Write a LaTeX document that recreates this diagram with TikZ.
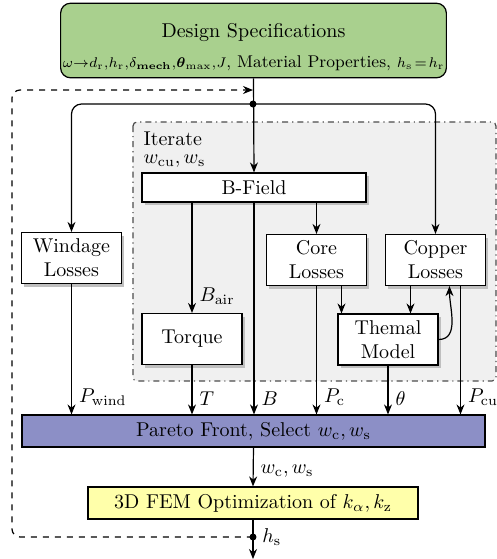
\documentclass[tikz,border=0pt]{standalone}
\usepackage{amsmath,amssymb}
\usetikzlibrary{arrows.meta,shadows}
\definecolor{specgreen}{RGB}{169,208,142}
\definecolor{paretoblue}{RGB}{140,143,198}
\definecolor{femyellow}{RGB}{255,255,170}
\definecolor{itergray}{RGB}{240,240,240}

\begin{document}
\begin{tikzpicture}[x=0.5pt,y=-0.5pt,semithick,>={Stealth[length=5pt,width=4pt]},
        blk/.style={draw,fill=white,align=center,inner sep=2pt,minimum width=50pt,minimum height=25.5pt,
            drop shadow={shadow xshift=1.5pt,shadow yshift=-1.5pt,fill=black!25,opacity=1}},
        wide/.style={draw,align=center,inner sep=2pt,minimum height=16pt},
        lbl/.style={above right,inner sep=1pt,yshift=3pt,xshift=2.5pt}]
        \useasboundingbox (0,0) rectangle (497,559);

        % iteration region
        \draw[dash dot,draw=black!70,fill=itergray,rounded corners=2pt] (133,122) rectangle (496,381);
        \node[anchor=north west,align=left,inner sep=0pt] (itlabel) at (143,131) {Iterate\\[-3pt]$w_{\mathrm{cu}}, w_{\mathrm{s}}$};

        \node[draw,rounded corners=5pt,fill=specgreen,align=center,inner xsep=1pt,minimum width=189.5pt,minimum height=32.5pt] (spec) at (253.5,40.5)
            {\rule{0pt}{14pt}Design Specifications\\[3pt]\fontsize{8.5}{10}\selectfont{\scriptsize$\omega{\rightarrow}d_{\mathrm{r}},\!h_{\mathrm{r}},\!\delta_{\mathbf{mech}},\!\boldsymbol{\theta}_{\mathrm{max}},\!J$}, Material Properties, {\scriptsize$h_{\mathrm{s}}\!=\!h_{\mathrm{r}}$}};
        \node[blk,minimum width=112pt,minimum height=14.5pt] (bfield) at (254,187.5) {B-Field};
        \node[blk] (wind) at (71.5,258) {Windage\\Losses};
        \node[blk] (core) at (316.5,260) {Core\\Losses};
        \node[blk] (copper) at (435.5,260) {Copper\\Losses};
        \node[blk] (torque) at (192,339) {Torque};
        \node[blk] (thermal) at (388,339.5) {Themal\\Model};
        \node[wide,fill=paretoblue,minimum width=231.5pt] (pareto) at (253.5,431) {Pareto Front, Select $w_{\mathrm{c}}, w_{\mathrm{s}}$};
        \node[wide,fill=femyellow,minimum width=165pt] (fem) at (253,503) {3D FEM Optimization of $k_{\alpha}, k_{\mathrm{z}}$};

        \coordinate (split) at (253,104);
        \coordinate (fb) at (253,90);
        \coordinate (fbcorner) at (12,90);
        \coordinate (hsdot) at (253,537);
        \coordinate (out) at (253,559);

        % inputs
        \draw[->] (spec.south) -- (bfield.north);
        \draw[->,rounded corners=5pt] (split) -| (wind.north);
        \draw[->,rounded corners=5pt] (split) -| (copper.north);
        \fill (split) circle[radius=1.75pt];

        % field outputs
        \draw[->] (bfield.south -| torque.north) -- (torque.north) node[lbl] {$B_{\mathrm{air}}$};
        \draw[->] (bfield.south) -- (bfield.south |- pareto.north) node[lbl] {$B$};
        \draw[->] (bfield.south -| core.north) -- (core.north);

        % losses and thermal
        \draw[->] ([xshift=12.5pt]core.south) -- ([xshift=12.5pt]core.south |- thermal.north);
        \draw[->] ([xshift=-12.5pt]copper.south) -- ([xshift=-12.5pt]copper.south |- thermal.north);
        \draw[->] (thermal.east) to[out=0,in=-90] ([xshift=7pt]copper.south);

        % to pareto
        \draw[->] (wind.south) -- (wind.south |- pareto.north) node[lbl] {$P_{\mathrm{wind}}$};
        \draw[->] (torque.south) -- (torque.south |- pareto.north) node[lbl] {$T$};
        \draw[->] (core.south) -- (core.south |- pareto.north) node[lbl] {$P_{\mathrm{c}}$};
        \draw[->] (thermal.south) -- (thermal.south |- pareto.north) node[lbl] {$\theta$};
        \draw[->] ([xshift=12.5pt]copper.south) -- ([xshift=12.5pt]copper.south |- pareto.north) node[lbl] {$P_{\mathrm{cu}}$};

        % optimization
        \draw[->] (pareto.south) -- (fem.north) node[lbl] {$w_{\mathrm{c}}, w_{\mathrm{s}}$};
        \draw[->] (fem.south) -- (out);
        \fill (hsdot) circle[radius=1.75pt] node[right,xshift=1pt] {$h_{\mathrm{s}}$};
        \draw[dashed,->,rounded corners=4pt] (hsdot) -| (fbcorner) -- (fb);
    \end{tikzpicture}
\end{document}
